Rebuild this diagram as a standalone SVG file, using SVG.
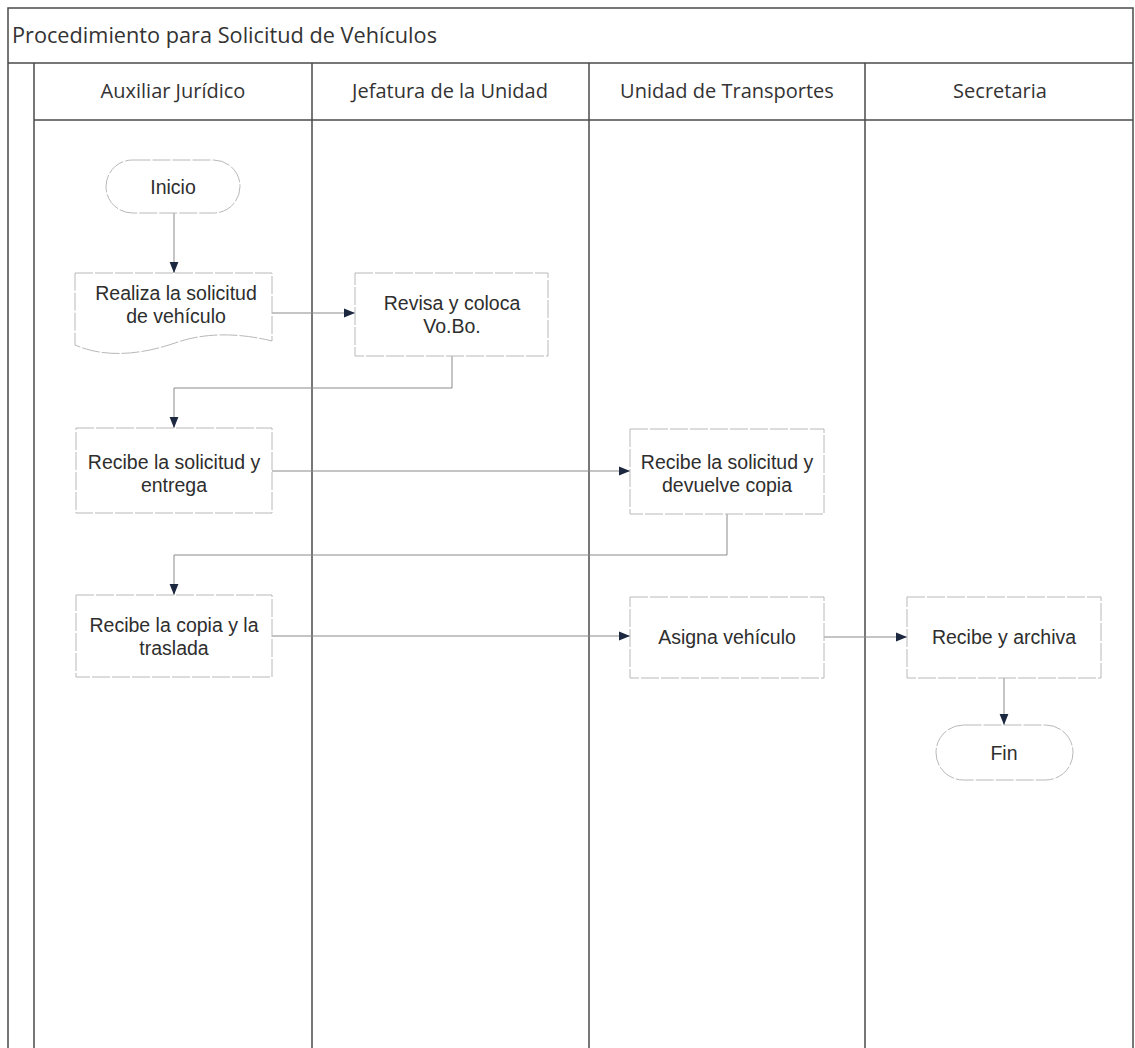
<svg xmlns="http://www.w3.org/2000/svg" width="1135" height="1048" viewBox="0 0 1135 1048">
  <style>
    .frame{fill:none;stroke:#4a4a4a;stroke-width:1.5}
    .title{font-family:"Open Sans","Noto Sans",sans-serif;font-size:21px;fill:#333}
    .lane{font-family:"Open Sans","Noto Sans",sans-serif;font-size:20px;fill:#333;text-anchor:middle}
    .box{fill:#fff;stroke:#b8b8b8;stroke-width:1;stroke-dasharray:18 2}
    .lbl{font-family:"Liberation Sans",Arial,sans-serif;font-size:19.5px;fill:#2e2e2e;text-anchor:middle}
    .conn{fill:none;stroke:#8a8a8a;stroke-width:1}
  </style>
  <defs>
    <marker id="arr" viewBox="0 0 10 10" refX="10" refY="5" markerWidth="11" markerHeight="11" markerUnits="userSpaceOnUse" orient="auto">
      <path d="M0,1 L10,5 L0,9 Z" fill="#1c2740"/>
    </marker>
  </defs>
  <rect width="1135" height="1048" fill="#fff"/>
  <g id="pool">
    <rect class="frame" x="8" y="8" width="1125" height="1045"/>
    <line class="frame" x1="8" y1="63" x2="1133" y2="63"/>
    <line class="frame" x1="34" y1="63" x2="34" y2="1048"/>
    <line class="frame" x1="34" y1="120" x2="1133" y2="120"/>
    <line class="frame" x1="312" y1="63" x2="312" y2="1048"/>
    <line class="frame" x1="589" y1="63" x2="589" y2="1048"/>
    <line class="frame" x1="865" y1="63" x2="865" y2="1048"/>
    <text class="title" x="12" y="43" textLength="425" lengthAdjust="spacingAndGlyphs">Procedimiento para Solicitud de Vehículos</text>
    <text class="lane" x="173" y="98">Auxiliar Jurídico</text>
    <text class="lane" x="450" y="98">Jefatura de la Unidad</text>
    <text class="lane" x="727" y="98">Unidad de Transportes</text>
    <text class="lane" x="1000" y="98">Secretaria</text>
  </g>
  <g id="connectors">
    <line class="conn" x1="174" y1="213" x2="174" y2="273" marker-end="url(#arr)"/>
    <line class="conn" x1="272" y1="313" x2="355" y2="313" marker-end="url(#arr)"/>
    <polyline class="conn" points="452,356 452,388 174,388 174,428" marker-end="url(#arr)"/>
    <line class="conn" x1="272" y1="471" x2="630" y2="471" marker-end="url(#arr)"/>
    <polyline class="conn" points="727,514 727,555 174,555 174,595" marker-end="url(#arr)"/>
    <line class="conn" x1="272" y1="636" x2="630" y2="636" marker-end="url(#arr)"/>
    <line class="conn" x1="824" y1="637" x2="907" y2="637" marker-end="url(#arr)"/>
    <line class="conn" x1="1004" y1="678" x2="1004" y2="725" marker-end="url(#arr)"/>
  </g>
  <g id="inicio">
    <rect class="box" x="106" y="160" width="134" height="53" rx="26.5"/>
    <text class="lbl" x="173" y="194">Inicio</text>
  </g>
  <g id="realiza">
    <path class="box" d="M75,273 H272 V341 C240,333 205,332 175,343 C140,355 105,358 75,345 Z"/>
    <text class="lbl" x="176" y="300">Realiza la solicitud</text>
    <text class="lbl" x="176" y="323">de vehículo</text>
  </g>
  <g id="revisa">
    <rect class="box" x="355" y="273" width="193" height="83"/>
    <text class="lbl" x="452" y="310">Revisa y coloca</text>
    <text class="lbl" x="452" y="333">Vo.Bo.</text>
  </g>
  <g id="recibe-entrega">
    <rect class="box" x="76" y="428" width="196" height="85"/>
    <text class="lbl" x="174" y="469">Recibe la solicitud y</text>
    <text class="lbl" x="174" y="492">entrega</text>
  </g>
  <g id="recibe-devuelve">
    <rect class="box" x="630" y="429" width="194" height="85"/>
    <text class="lbl" x="727" y="469">Recibe la solicitud y</text>
    <text class="lbl" x="727" y="492">devuelve copia</text>
  </g>
  <g id="recibe-copia">
    <rect class="box" x="76" y="595" width="196" height="82"/>
    <text class="lbl" x="174" y="632">Recibe la copia y la</text>
    <text class="lbl" x="174" y="655">traslada</text>
  </g>
  <g id="asigna">
    <rect class="box" x="630" y="597" width="194" height="81"/>
    <text class="lbl" x="727" y="644">Asigna vehículo</text>
  </g>
  <g id="recibe-archiva">
    <rect class="box" x="907" y="597" width="194" height="81"/>
    <text class="lbl" x="1004" y="644">Recibe y archiva</text>
  </g>
  <g id="fin">
    <rect class="box" x="936" y="725" width="137" height="55" rx="27.5"/>
    <text class="lbl" x="1004" y="760">Fin</text>
  </g>
</svg>
